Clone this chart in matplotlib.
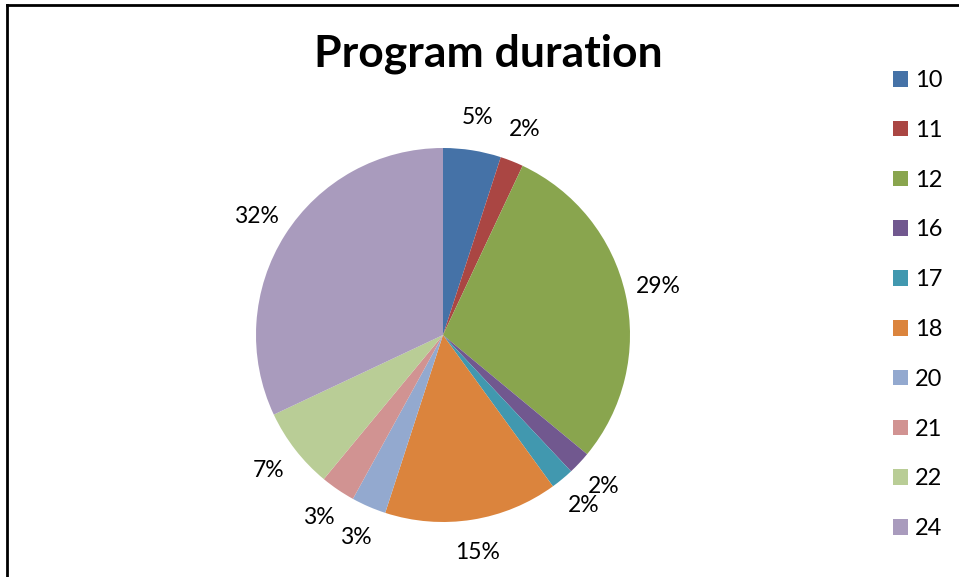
import matplotlib
matplotlib.use('Agg')
import matplotlib.pyplot as plt
from matplotlib.patches import Patch
from matplotlib.lines import Line2D

# program duration categories and their share (%)
durations = ['10', '11', '12', '16', '17', '18', '20', '21', '22', '24']
shares = [5, 2, 29, 2, 2, 15, 3, 3, 7, 32]
colors = ['#4572A7', '#AA4643', '#89A54E', '#71588F', '#4198AF',
          '#DB843D', '#93A9CF', '#D19392', '#B9CD96', '#A99BBD']

plt.rcParams['font.family'] = ['Lato', 'DejaVu Sans']

fig = plt.figure(figsize=(9.59, 5.77), dpi=100)
W, H = 959, 577

# chart area border (only left and top visible)
fig.add_artist(Line2D([7 / W, 7 / W], [0, 1 - 5 / H], transform=fig.transFigure,
                      color='black', lw=2))
fig.add_artist(Line2D([7 / W, 1], [1 - 5 / H, 1 - 5 / H], transform=fig.transFigure,
                      color='black', lw=2))

cx, cy, r = 443, 335, 187
ax = fig.add_axes([(cx - r) / W, (H - cy - r) / H, 2 * r / W, 2 * r / H])
wedges, texts, autotexts = ax.pie(shares, colors=colors, startangle=90, counterclock=False,
                                  autopct='%1.0f%%', pctdistance=1.18, radius=1,
                                  textprops={'fontsize': 16.5, 'color': 'black'})
ax.set_xlim(-1, 1)
ax.set_ylim(-1, 1)
ax.set_aspect('equal')

fig.text(488 / W, 1 - 66 / H, 'Program duration', ha='center', va='baseline',
         fontsize=32, fontweight='bold')

handles = [Patch(facecolor=c, edgecolor='none') for c in colors]
fig.legend(handles, durations, loc='upper left', bbox_to_anchor=(893 / W, 1 - 70 / H),
           frameon=False, fontsize=17, handlelength=0.64, handleheight=0.64,
           handletextpad=0.3, labelspacing=1.22, borderaxespad=0, borderpad=0)

fig.savefig('out.png', dpi=100)
